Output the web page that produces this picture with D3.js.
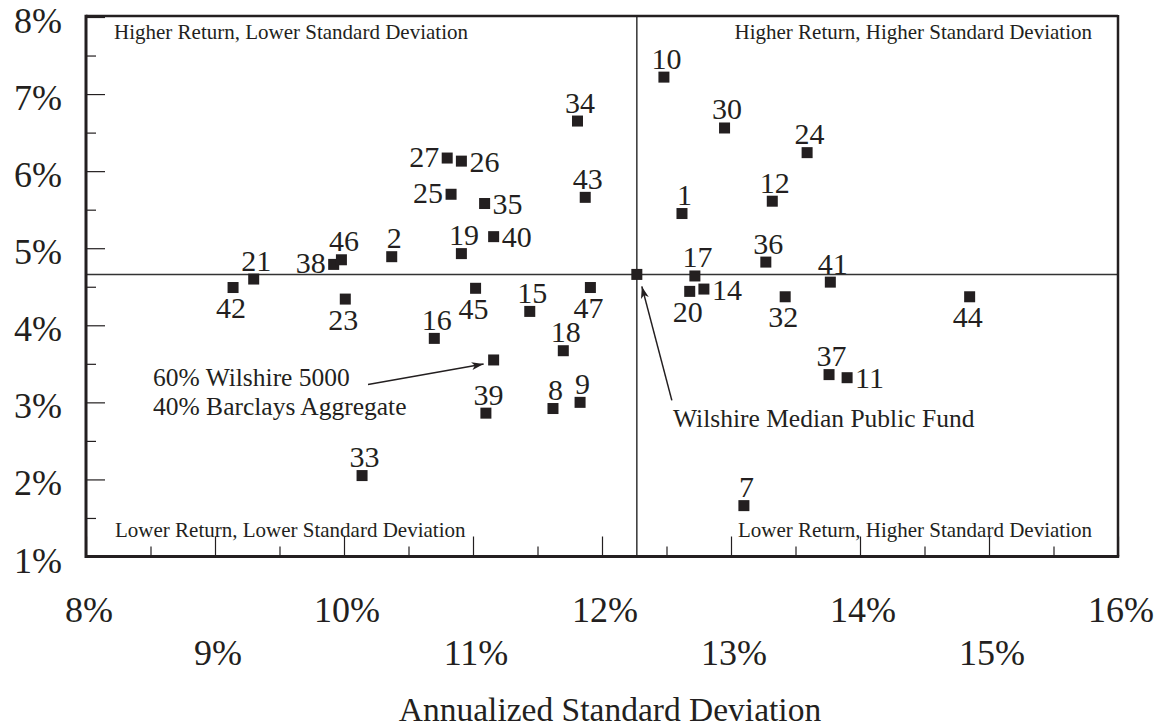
<!DOCTYPE html>
<html>
<head>
<meta charset="utf-8">
<script src="https://cdn.jsdelivr.net/npm/d3@7"></script>
<style>
  html, body { margin: 0; padding: 0; background: #fff; }
  svg { display: block; }
  text { font-family: "Liberation Serif", "Times New Roman", serif; fill: #231f20; }
</style>
</head>
<body>
<svg id="chart" width="1170" height="728"></svg>
<script>
// ---- Data ----
const fundIds = [1, 2, 7, 8, 9, 10, 11, 12, 14, 15, 16, 17, 18, 19, 20, 21, 23, 24, 25, 26, 27, 30, 32, 33, 34, 35, 36, 37, 38, 39, 40, 41, 42, 43, 44, 45, 46, 47];
const fundStdDev = [12.62, 10.37, 13.10, 11.62, 11.83, 12.48, 13.90, 13.32, 12.79, 11.44, 10.70, 12.72, 11.70, 10.91, 12.68, 9.30, 10.01, 13.59, 10.83, 10.91, 10.80, 12.95, 13.42, 10.14, 11.81, 11.09, 13.27, 13.76, 9.92, 11.10, 11.16, 13.77, 9.14, 11.87, 14.85, 11.02, 9.98, 11.91];
const fundReturn = [5.45, 4.89, 1.66, 2.92, 3.00, 7.22, 3.32, 5.61, 4.47, 4.18, 3.83, 4.64, 3.67, 4.93, 4.44, 4.60, 4.34, 6.24, 5.70, 6.13, 6.17, 6.56, 4.37, 2.05, 6.65, 5.58, 4.82, 3.36, 4.79, 2.86, 5.15, 4.56, 4.49, 5.66, 4.37, 4.48, 4.85, 4.49];
const labelSide = ["t","t","t","t","t","t","r","t","r","t","t","t","t","t","b","t","b","t","l","r","l","t","b","t","t","r","t","t","l","t","r","t","b","t","b","b","t","b"];

const benchmarkLabel = ["60% Wilshire 5000", "40% Barclays Aggregate"];
const benchmarkStdDev = 11.16;
const benchmarkReturn = 3.55;

const medianLabel = "Wilshire Median Public Fund";
const medianStdDev = 12.27;
const medianReturn = 4.66;

const xTickValues = [8, 9, 10, 11, 12, 13, 14, 15, 16];
const yTickValues = [1, 2, 3, 4, 5, 6, 7, 8];
const xTickLabels = ["8%", "9%", "10%", "11%", "12%", "13%", "14%", "15%", "16%"];
const yTickLabels = ["1%", "2%", "3%", "4%", "5%", "6%", "7%", "8%"];
const xMinorTicks = d3.range(8.5, 16, 1);
const yMinorTicks = d3.range(1.5, 8, 1);

const quadrantLabels = [
  "Higher Return, Lower Standard Deviation",
  "Higher Return, Higher Standard Deviation",
  "Lower Return, Lower Standard Deviation",
  "Lower Return, Higher Standard Deviation"
];
const xTitle = "Annualized Standard Deviation";

// ---- Layout ----
const ink = "#231f20";
const svg = d3.select("#chart");
const L = 86, R = 1118, T = 17, B = 556.5;
const x = d3.scaleLinear().domain([8, 16]).range([L, R]);
const y = d3.scaleLinear().domain([1, 8]).range([B, T]);

// Inward ticks via axes
const gx1 = svg.append("g").attr("transform", `translate(0,${B})`)
  .call(d3.axisBottom(x).tickValues(xTickValues).tickSize(-20).tickFormat(""));
const gx2 = svg.append("g").attr("transform", `translate(0,${B})`)
  .call(d3.axisBottom(x).tickValues(xMinorTicks).tickSize(-10).tickFormat(""));
const gy1 = svg.append("g").attr("transform", `translate(${L},0)`)
  .call(d3.axisLeft(y).tickValues(yTickValues).tickSize(-19).tickFormat(""));
const gy2 = svg.append("g").attr("transform", `translate(${L},0)`)
  .call(d3.axisLeft(y).tickValues(yMinorTicks).tickSize(-10).tickFormat(""));
[gx1, gx2, gy1, gy2].forEach(g => {
  g.select(".domain").remove();
  g.selectAll(".tick line").attr("stroke", ink).attr("stroke-width", 1.2);
});

// Median cross-hair lines
svg.append("line").attr("x1", x(medianStdDev)).attr("x2", x(medianStdDev))
  .attr("y1", T).attr("y2", B).attr("stroke", "#333").attr("stroke-width", 1.5);
svg.append("line").attr("x1", L).attr("x2", R)
  .attr("y1", y(medianReturn)).attr("y2", y(medianReturn)).attr("stroke", "#333").attr("stroke-width", 1.5);

// Frame
svg.append("line").attr("x1", L).attr("x2", R).attr("y1", T - 1).attr("y2", T - 1).attr("stroke", ink).attr("stroke-width", 2.5);
svg.append("line").attr("x1", R).attr("x2", R).attr("y1", T - 2).attr("y2", B).attr("stroke", ink).attr("stroke-width", 2.5);
svg.append("line").attr("x1", L).attr("x2", R + 1.2).attr("y1", B).attr("y2", B).attr("stroke", ink).attr("stroke-width", 3);
svg.append("line").attr("x1", L).attr("x2", L).attr("y1", T - 2.2).attr("y2", B + 1.5).attr("stroke", ink).attr("stroke-width", 3);

// Y tick labels
svg.append("g").selectAll("text").data(yTickValues).join("text")
  .attr("x", 62).attr("y", d => y(d) + 16)
  .attr("text-anchor", "end").attr("font-size", 36)
  .text((d, i) => yTickLabels[i]);

// X tick labels (staggered)
svg.append("g").selectAll("text").data(xTickValues).join("text")
  .attr("x", d => x(d) + 3).attr("y", (d, i) => i % 2 === 0 ? 622 : 665)
  .attr("text-anchor", "middle").attr("font-size", 36)
  .text((d, i) => xTickLabels[i]);

// X title
svg.append("text").attr("x", 610).attr("y", 720.5).attr("text-anchor", "middle")
  .attr("font-size", 33.5).text(xTitle);

// Quadrant labels
svg.append("text").attr("x", 114).attr("y", 39).attr("font-size", 21).text(quadrantLabels[0]);
svg.append("text").attr("x", 1092).attr("y", 39).attr("font-size", 21).attr("text-anchor", "end").text(quadrantLabels[1]);
svg.append("text").attr("x", 115).attr("y", 537).attr("font-size", 21).text(quadrantLabels[2]);
svg.append("text").attr("x", 1092).attr("y", 537).attr("font-size", 21).attr("text-anchor", "end").text(quadrantLabels[3]);

// Fund squares
const S = 11;
const funds = fundIds.map((id, i) => ({ id, sd: fundStdDev[i], ret: fundReturn[i], side: labelSide[i] }));
svg.append("g").selectAll("rect").data(funds).join("rect")
  .attr("x", d => x(d.sd) - S / 2).attr("y", d => y(d.ret) - S / 2)
  .attr("width", S).attr("height", S).attr("fill", ink);

// Fund labels
const off = {
  t: { dx: 2.5, dy: -8.5, a: "middle" },
  b: { dx: -2, dy: 30.5, a: "middle" },
  l: { dx: -8, dy: 9, a: "end" },
  r: { dx: 8, dy: 10.5, a: "start" }
};
svg.append("g").selectAll("text").data(funds).join("text")
  .attr("x", d => x(d.sd) + off[d.side].dx)
  .attr("y", d => y(d.ret) + off[d.side].dy)
  .attr("text-anchor", d => off[d.side].a)
  .attr("font-size", 30)
  .text(d => d.id);

// Benchmark and median squares
[[benchmarkStdDev, benchmarkReturn], [medianStdDev, medianReturn]].forEach(([sd, r]) => {
  svg.append("rect").attr("x", x(sd) - S / 2).attr("y", y(r) - S / 2)
    .attr("width", S).attr("height", S).attr("fill", ink);
});

// Arrowhead marker
svg.append("defs").append("marker").attr("id", "arr")
  .attr("viewBox", "0 0 12 8").attr("refX", 12).attr("refY", 4)
  .attr("markerWidth", 12).attr("markerHeight", 8).attr("markerUnits", "userSpaceOnUse")
  .attr("orient", "auto")
  .append("path").attr("d", "M0,0 L12,4 L0,8 L3,4 Z").attr("fill", ink);

// Benchmark annotation
svg.append("text").attr("x", 153).attr("y", 386).attr("font-size", 25.5).text(benchmarkLabel[0]);
svg.append("text").attr("x", 153).attr("y", 415).attr("font-size", 25.5).text(benchmarkLabel[1]);
svg.append("line")
  .attr("x1", 368).attr("y1", 384.5)
  .attr("x2", x(benchmarkStdDev) - 10).attr("y2", y(benchmarkReturn) + 4)
  .attr("stroke", ink).attr("stroke-width", 1.5).attr("marker-end", "url(#arr)");

// Median annotation
svg.append("text").attr("x", 673).attr("y", 427).attr("font-size", 25.5).text(medianLabel);
svg.append("line")
  .attr("x1", x(medianStdDev) + 35).attr("y1", y(medianReturn) + 126)
  .attr("x2", x(medianStdDev) + 5).attr("y2", y(medianReturn) + 12)
  .attr("stroke", ink).attr("stroke-width", 1.5).attr("marker-end", "url(#arr)");
</script>
</body>
</html>
